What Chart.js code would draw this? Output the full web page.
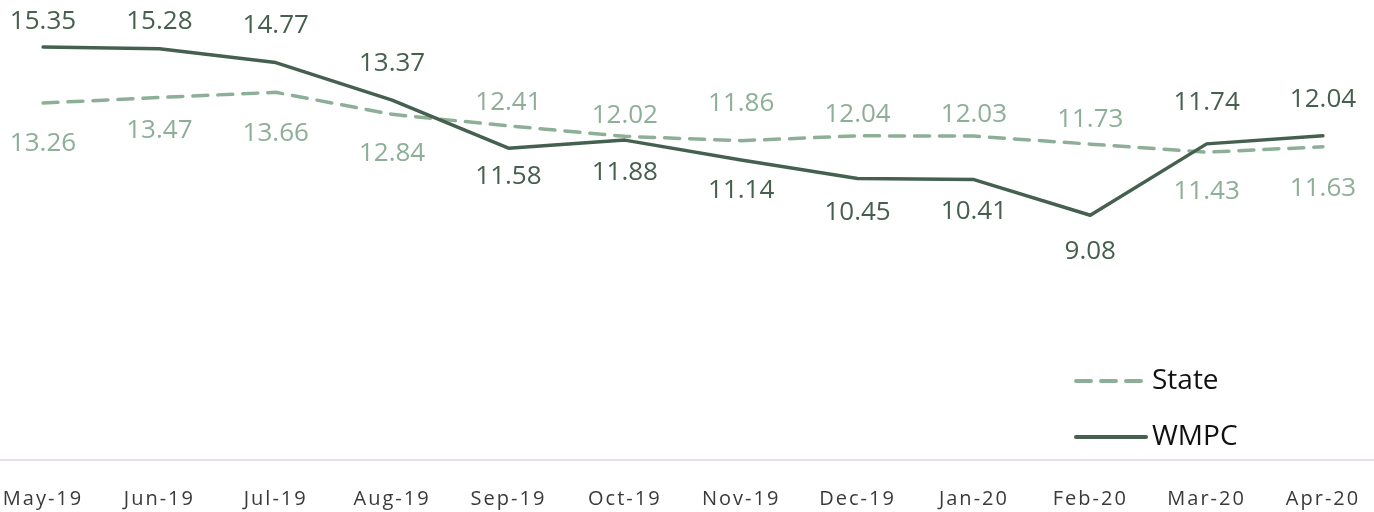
<!DOCTYPE html>
<html>
<head>
<meta charset="utf-8">
<title>WMPC vs State</title>
<script src="https://cdn.jsdelivr.net/npm/chart.js@4/dist/chart.umd.min.js"></script>
<style>
  html, body { margin: 0; padding: 0; background: #fff; overflow: hidden; }
  #wrap { width: 1374px; height: 512px; }
</style>
</head>
<body>
<div id="wrap"><canvas id="trendChart" width="1374" height="512"></canvas></div>
<script>
const months = ["May-19","Jun-19","Jul-19","Aug-19","Sep-19","Oct-19","Nov-19","Dec-19","Jan-20","Feb-20","Mar-20","Apr-20"];
const stateValues = [13.26,13.47,13.66,12.84,12.41,12.02,11.86,12.04,12.03,11.73,11.43,11.63];
const wmpcValues = [15.35,15.28,14.77,13.37,11.58,11.88,11.14,10.45,10.41,9.08,11.74,12.04];

// vertical nudge of each value label from its point (negative = above)
const stateLabelShift = [41,33,41,39,-23,-21,-37,-21,-21,-25,39,42];
const wmpcLabelShift = [-25,-27,-37,-37,28,32,31,34,32,36,-41,-36];

const WMPC_COLOR = "#46604f";
const STATE_COLOR = "#8daf98";
const FONT = "'Open Sans', 'Noto Sans', sans-serif";

// month labels are drawn a little spaced out
const tickSpacing = {
  id: "tickSpacing",
  beforeDraw(chart) { chart.ctx.letterSpacing = "2px"; },
  beforeDatasetsDraw(chart) { chart.ctx.letterSpacing = "0px"; }
};

// value labels next to each point
const valueLabels = {
  id: "valueLabels",
  afterDatasetsDraw(chart) {
    const ctx = chart.ctx;
    ctx.save();
    ctx.font = "26px " + FONT;
    ctx.textAlign = "center";
    ctx.textBaseline = "middle";
    chart.data.datasets.forEach((ds, i) => {
      const meta = chart.getDatasetMeta(i);
      ctx.fillStyle = ds.borderColor;
      meta.data.forEach((pt, j) => {
        ctx.fillText(ds.data[j].toFixed(2), pt.x, pt.y + ds.labelShift[j]);
      });
    });
    ctx.restore();
  }
};

// thin category axis line across the full width
const axisLine = {
  id: "axisLine",
  beforeDatasetsDraw(chart) {
    const ctx = chart.ctx;
    const y = chart.chartArea.bottom + 1;
    ctx.save();
    ctx.strokeStyle = "#e7dfe9";
    ctx.lineWidth = 2;
    ctx.beginPath();
    ctx.moveTo(0, y);
    ctx.lineTo(chart.width, y);
    ctx.stroke();
    ctx.restore();
  }
};

// legend inside the plot, bottom right
const insideLegend = {
  id: "insideLegend",
  afterDraw(chart) {
    const ctx = chart.ctx;
    const order = [1, 0]; // State first, then WMPC
    const x0 = chart.width - 300, x1 = chart.width - 228;
    ctx.save();
    ctx.font = "28px " + FONT;
    ctx.textBaseline = "middle";
    order.forEach((idx, k) => {
      const ds = chart.data.datasets[idx];
      const y = 381 + k * 56;
      ctx.strokeStyle = ds.borderColor;
      ctx.lineWidth = 4;
      ctx.lineCap = "round";
      ctx.setLineDash(ds.borderDash || []);
      ctx.beginPath();
      ctx.moveTo(x0 + 2, y);
      ctx.lineTo(x1, y);
      ctx.stroke();
      ctx.setLineDash([]);
      ctx.fillStyle = "#111";
      ctx.fillText(ds.label, x1 + 6, y);
    });
    ctx.restore();
  }
};

new Chart(document.getElementById("trendChart"), {
  type: "line",
  data: {
    labels: months,
    datasets: [
      {
        label: "WMPC",
        data: wmpcValues,
        borderColor: WMPC_COLOR,
        borderWidth: 3.5,
        labelShift: wmpcLabelShift
      },
      {
        label: "State",
        data: stateValues,
        borderColor: STATE_COLOR,
        borderWidth: 3.5,
        borderDash: [15, 10],
        labelShift: stateLabelShift
      }
    ]
  },
  options: {
    responsive: false,
    animation: false,
    events: [],
    layout: { padding: { left: 43, right: 51, top: 0, bottom: 0 } },
    elements: {
      line: { tension: 0, borderCapStyle: "round", borderJoinStyle: "round" },
      point: { radius: 0 }
    },
    plugins: {
      legend: { display: false },
      tooltip: { enabled: false }
    },
    scales: {
      x: {
        offset: false,
        grid: { display: false },
        border: { display: false },
        ticks: {
          color: "#3a3a3a",
          font: { family: FONT, size: 20 },
          padding: 20,
          maxRotation: 0,
          autoSkip: false
        },
        afterFit(scale) {
          scale.height = 53;
          scale.paddingLeft = 0;
          scale.paddingRight = 0;
        }
      },
      y: {
        display: false,
        min: 0,
        max: 17.1
      }
    }
  },
  plugins: [tickSpacing, axisLine, valueLabels, insideLegend]
});
</script>
</body>
</html>
